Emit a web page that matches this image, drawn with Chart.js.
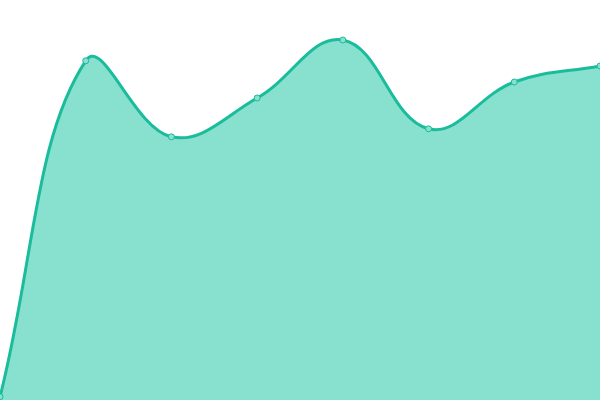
<!DOCTYPE html>
<html>
<head>
<meta charset="utf-8">
<script src="https://cdn.jsdelivr.net/npm/chart.js@4"></script>
<style>
  html, body { margin: 0; padding: 0; background: #fff; }
  #wrap { width: 600px; height: 400px; }
</style>
</head>
<body>
<div id="wrap"><canvas id="chart"></canvas></div>
<script>
/**
 * DATA
 */
const labels = ["1", "2", "3", "4", "5", "6", "7", "8"];
const values = [0.8, 84.8, 65.8, 75.5, 90, 67.8, 79.5, 83.5];

const lineColor = "#1abc9c";
const fillColor = "#88e0cf";

new Chart(document.getElementById("chart"), {
  type: "line",
  data: {
    labels: labels,
    datasets: [{
      data: values,
      borderColor: lineColor,
      backgroundColor: fillColor,
      borderWidth: 3,
      fill: true,
      tension: 0.4,
      pointRadius: 3,
      pointBorderWidth: 1,
      pointBackgroundColor: fillColor,
      pointBorderColor: lineColor
    }]
  },
  options: {
    responsive: true,
    maintainAspectRatio: false,
    animation: false,
    layout: { padding: 0, autoPadding: false },
    plugins: {
      legend: { display: false },
      tooltip: { enabled: false }
    },
    scales: {
      x: { display: false, offset: false },
      y: { display: false, min: 0, max: 100 }
    }
  }
});
</script>
</body>
</html>
